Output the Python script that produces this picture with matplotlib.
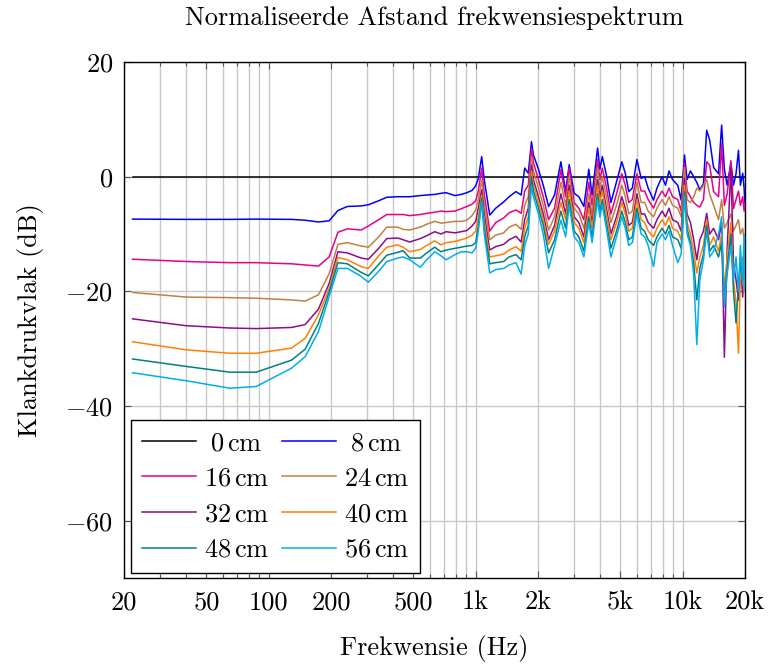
import matplotlib
matplotlib.use("Agg")
import matplotlib.pyplot as plt
from matplotlib.ticker import FixedLocator, NullFormatter

plt.rcParams['font.family'] = 'serif'
plt.rcParams['font.serif'] = ['cmr10']
plt.rcParams['mathtext.fontset'] = 'cm'
plt.rcParams['axes.unicode_minus'] = False
plt.rcParams['axes.formatter.use_mathtext'] = True

# ---------------- data ----------------
freq = [22, 40, 65, 87, 129, 150, 174, 196, 216, 240, 280, 303, 340, 372, 420, 446, 480, 540, 580, 634,
        680, 720, 794, 850, 906, 960, 1000,
        1030, 1069, 1100, 1169, 1250, 1366, 1450, 1565, 1658, 1725, 1795, 1860, 1900, 2010, 2120, 2250,
        2405, 2580, 2720, 2830, 2990, 3150, 3330, 3520, 3650, 3880, 3980, 4090, 4280, 4500, 4790, 5080,
        5280, 5490, 5710, 6010, 6300, 6550, 6810, 7230, 7510, 7950, 8260, 8590, 8930, 9470, 9830, 10200,
        10500, 10900, 11300, 11700, 12100, 12600, 13060, 13500, 14100, 14900, 15420, 15900, 16400, 17100,
        17600, 18100, 18600, 19000, 19500, 19800, 20000]

freq_0cm = [22, 20000]
db_0cm = [0.0, 0.0]

db_8cm = [-7.4, -7.45, -7.45, -7.4, -7.45, -7.6, -7.9, -7.7, -5.9, -5.2, -5.1, -4.9, -4.2, -3.6, -3.5, -3.5,
          -3.5, -3.3, -3.2, -3.1, -2.9, -2.8, -3.3, -3.1, -2.8, -2.4, -1.6,
          -0.3, 3.5, -0.5, -6.7, -5.5, -4.4, -3.5, -2.6, -3.2, 1.5, 0.6, 6.1, 3.8, 1.3, -1.5, -5.2,
          -3.2, 2.6, -2.6, 2.1, -2.9, -3.5, -5.2, 1.3, -3.2, 5.0, 1.3, 3.5, 0.3, -4.5, -0.9, 2.6,
          0.6, -2.6, -2.0, 3.0, -0.3, 0.0, -2.0, -4.1, -2.0, 0.0, -1.5, 1.0, -0.5, -1.5, -4.1, 3.8,
          -0.5, 1.0, 0.0, -1.0, -2.3, -1.2, 8.1, 6.4, 1.6, 0.5, 9.0, 1.3, -1.5, 2.4,
          -1.5, 0.5, 4.6, -1.5, 0.6, -2.0, -5.2]

db_16cm = [-14.4, -14.8, -15.0, -15.0, -15.2, -15.4, -15.6, -14.0, -9.7, -9.1, -9.3, -8.6, -7.5, -6.6, -6.6, -6.6,
           -6.8, -6.6, -6.4, -6.2, -6.0, -6.1, -6.0, -5.6, -5.2, -4.8, -4.2,
           -2.5, 1.5, -3.0, -9.5, -8.0, -7.2, -6.3, -5.8, -6.4, -2.5, -1.5, 5.0, 2.5, -0.5, -3.5, -7.5,
           -5.5, 1.2, -3.5, 1.5, -4.5, -5.5, -7.5, -1.0, -5.0, 3.0, -0.5, 1.5, -1.8, -6.5, -3.0, 0.5,
           -1.5, -4.5, -4.0, 0.5, -2.5, -2.5, -4.0, -5.5, -4.0, -2.5, -3.5, -2.0, -3.5, -4.0, -6.0, 2.4,
           -2.5, -3.5, -4.5, -5.0, -5.3, -4.0, 2.6, 2.0, -2.6, -3.5, 5.8, -5.0, -3.0, 2.8,
           -5.6, -4.0, -2.5, -5.0, -3.5, -6.0, -4.5]

db_24cm = [-20.2, -21.0, -21.1, -21.2, -21.5, -21.7, -20.6, -16.9, -11.8, -11.5, -12.1, -12.3, -10.5, -8.8, -8.8, -9.2,
           -9.3, -8.8, -8.3, -7.8, -8.1, -8.0, -7.8, -7.8, -7.6, -6.8, -5.8,
           -4.0, -0.6, -4.5, -11.0, -10.2, -9.8, -8.8, -8.3, -9.2, -5.0, -3.5, 3.5, 1.0, -2.0, -5.0, -9.3,
           -7.0, -1.0, -5.0, 0.0, -5.5, -6.5, -9.0, -3.0, -6.5, 1.5, -2.0, 0.0, -3.5, -8.0, -5.0, -1.5,
           -3.5, -6.5, -6.0, -1.0, -4.5, -4.5, -6.0, -7.0, -5.5, -4.0, -5.0, -3.5, -5.0, -5.5, -7.0, 1.6,
           -4.0, -4.5, -3.5, -2.0, -2.5, -1.5, -0.5, -3.0, -5.0, -7.5, -4.0, -9.0, -8.0, -6.5,
           -9.5, -8.5, -7.5, -10.0, -9.0, -11.0, -12.0]

db_32cm = [-24.8, -26.0, -26.4, -26.5, -26.3, -25.8, -23.1, -18.6, -13.1, -13.3, -14.2, -14.4, -12.5, -10.8, -10.7, -11.0,
           -11.4, -10.8, -10.3, -9.6, -10.0, -9.6, -9.8, -9.6, -9.4, -8.6, -7.8,
           -5.5, -2.3, -6.5, -12.8, -12.2, -11.8, -11.0, -10.4, -11.4, -7.5, -5.5, 2.0, -0.5, -3.5, -6.5, -11.0,
           -8.5, -3.0, -6.5, -1.5, -7.0, -8.0, -10.5, -4.5, -8.0, -0.5, -3.5, -1.5, -5.5, -10.0, -7.0, -3.5,
           -5.5, -8.5, -8.0, -3.0, -6.5, -6.5, -8.0, -9.0, -7.5, -6.0, -7.0, -5.5, -7.5, -8.0, -9.5, -0.3,
           -6.5, -8.0, -11.0, -14.5, -11.0, -9.5, -6.4, -10.0, -9.0, -11.0, -8.0, -31.5, -12.6, 1.5,
           -15.0, -18.0, -21.5, -15.0, -21.0, -14.0, -18.0]

db_40cm = [-28.8, -30.2, -30.8, -30.8, -29.9, -28.2, -24.1, -19.5, -14.1, -14.5, -15.7, -16.0, -13.8, -12.3, -11.9, -12.3,
           -13.1, -12.7, -12.0, -11.2, -11.9, -11.5, -11.3, -11.0, -10.7, -10.2, -9.5,
           -7.0, -3.2, -7.8, -14.0, -13.8, -13.5, -12.8, -12.2, -13.0, -9.0, -7.0, 1.0, -1.5, -4.5, -7.5, -11.8,
           -9.5, -4.5, -7.5, -2.5, -8.0, -9.0, -11.5, -5.5, -9.0, -1.5, -4.5, -2.5, -6.5, -11.0, -8.0, -4.5,
           -6.5, -9.5, -9.0, -4.0, -7.5, -8.0, -9.5, -10.5, -9.0, -7.5, -8.5, -7.0, -9.0, -9.5, -11.0, -1.5,
           -8.0, -10.0, -13.0, -16.8, -14.0, -12.0, -7.5, -12.0, -10.5, -13.0, -10.0, -19.8, -14.0, -8.0,
           -18.0, -22.0, -30.8, -17.0, -14.0, -20.0, -15.0]

db_48cm = [-31.8, -33.1, -34.1, -34.1, -32.0, -30.1, -25.6, -20.1, -15.0, -15.2, -16.7, -17.3, -15.3, -13.7, -13.2, -12.9,
           -14.2, -14.2, -13.3, -12.3, -13.1, -12.8, -12.5, -12.3, -12.1, -12.0, -11.5,
           -8.5, -3.8, -9.0, -15.2, -15.0, -14.8, -14.0, -13.6, -14.5, -10.5, -8.5, 0.0, -2.5, -5.5, -8.5, -13.3,
           -11.0, -6.0, -9.0, -4.0, -9.5, -10.5, -13.0, -7.0, -10.5, -3.0, -6.0, -4.0, -8.0, -12.5, -9.5, -6.0,
           -8.0, -11.0, -10.5, -5.5, -9.0, -9.5, -11.0, -12.0, -10.5, -9.0, -10.0, -8.5, -10.5, -11.0, -12.5, -2.6,
           -9.0, -11.5, -15.0, -21.5, -16.0, -13.5, -8.5, -13.0, -12.0, -14.0, -11.5, -21.5, -16.0, -10.0,
           -20.0, -25.5, -19.0, -15.0, -18.0, -14.0, -16.0]

db_56cm = [-34.2, -35.6, -36.9, -36.6, -33.4, -31.4, -27.0, -20.9, -16.0, -16.0, -17.4, -18.4, -16.5, -14.8, -14.2, -14.0,
           -14.5, -15.8, -14.5, -13.1, -13.8, -14.5, -13.6, -13.1, -13.1, -13.3, -12.5,
           -9.5, -4.4, -10.0, -16.8, -16.2, -16.0, -15.4, -15.0, -17.0, -12.0, -10.0, -1.5, -3.5, -6.5, -10.0, -16.0,
           -12.0, -7.6, -10.5, -5.0, -10.5, -11.5, -14.0, -8.0, -11.5, -4.0, -7.0, -5.0, -9.0, -14.0, -10.5, -7.0,
           -9.0, -12.0, -11.5, -6.5, -10.0, -10.5, -12.0, -15.7, -11.5, -10.0, -11.0, -9.5, -12.0, -15.0, -13.5, -3.5,
           -10.0, -12.0, -17.0, -29.3, -18.0, -14.5, -9.5, -14.0, -13.0, -10.0, -7.0, -22.7, -17.0, -12.0,
           -18.0, -14.0, -20.0, -12.0, -19.0, -10.0, -20.0]

labels = ['$\\hspace{0.26}$0$\\,$cm', '$\\hspace{0.26}$8$\\,$cm', '16$\\,$cm', '24$\\,$cm',
          '32$\\,$cm', '40$\\,$cm', '48$\\,$cm', '56$\\,$cm']
colors = ['#000000', '#0000FF', '#E8008A', '#BF8040', '#8C0C8C', '#FF8000', '#008080', '#00ADEF']

x_ticks = [20, 50, 100, 200, 500, 1000, 2000, 5000, 10000, 20000]
x_ticklabels = ['20', '50', '100', '200', '500', '1k', '2k', '5k', '10k', '20k']
y_ticks = [20, 0, -20, -40, -60]
y_ticklabels = ['$20$', '$0$', '$-20$', '$-40$', '$-60$']

FS = 19

# ---------------- plot ----------------
fig = plt.figure(figsize=(7.69, 6.65), dpi=100)
ax = fig.add_axes([124/769, 87/665, 621/769, 516/665])

series = [(freq_0cm, db_0cm), (freq, db_8cm), (freq, db_16cm), (freq, db_24cm),
          (freq, db_32cm), (freq, db_40cm), (freq, db_48cm), (freq, db_56cm)]
handles = []
for (fx, fy), lab, col in zip(series, labels, colors):
    h, = ax.plot(fx, fy, color=col, lw=1.1, label=lab, zorder=3)
    handles.append(h)

ax.set_xscale('log')
ax.set_xlim(20, 20000)
ax.set_ylim(-70, 20)

minor = []
for dec in [10, 100, 1000, 10000]:
    for m in range(1, 10):
        v = dec * m
        if 20 <= v <= 20000 and v not in x_ticks:
            minor.append(v)
ax.xaxis.set_major_locator(FixedLocator(x_ticks))
ax.set_xticklabels(x_ticklabels)
ax.xaxis.set_minor_locator(FixedLocator(minor))
ax.xaxis.set_minor_formatter(NullFormatter())
ax.set_yticks(y_ticks)
ax.set_yticklabels(y_ticklabels)

ax.grid(True, which='both', axis='x', color='#C8C8C8', lw=1.0, zorder=0)
ax.grid(True, which='major', axis='y', color='#C8C8C8', lw=1.0, zorder=0)
ax.tick_params(which='both', direction='in', top=True, right=True, labelsize=FS)
ax.tick_params(axis='x', pad=9)
ax.tick_params(axis='y', pad=8)
ax.tick_params(which='major', length=5, width=0.8, color='#555555')
ax.tick_params(which='minor', length=3, width=0.8, color='#555555')
for s in ax.spines.values():
    s.set_linewidth(1.0)

ax.set_title('Normaliseerde Afstand frekwensiespektrum', fontsize=FS, pad=27)
ax.set_xlabel('Frekwensie (Hz)', fontsize=FS, labelpad=15)
ax.set_ylabel('Klankdrukvlak (dB)', fontsize=FS, labelpad=15)

order = [0, 2, 4, 6, 1, 3, 5, 7]
leg = ax.legend([handles[i] for i in order], [labels[i] for i in order],
                loc='lower left', bbox_to_anchor=(0.0113, 0.0097), borderaxespad=0, ncol=2,
                fontsize=FS, frameon=True, fancybox=False, edgecolor='black', framealpha=1,
                handlelength=2.05, labelspacing=0.45, columnspacing=0.45, handletextpad=0.3,
                borderpad=0.42)
leg.get_frame().set_linewidth(1.0)

fig.savefig('out.png', dpi=100)
